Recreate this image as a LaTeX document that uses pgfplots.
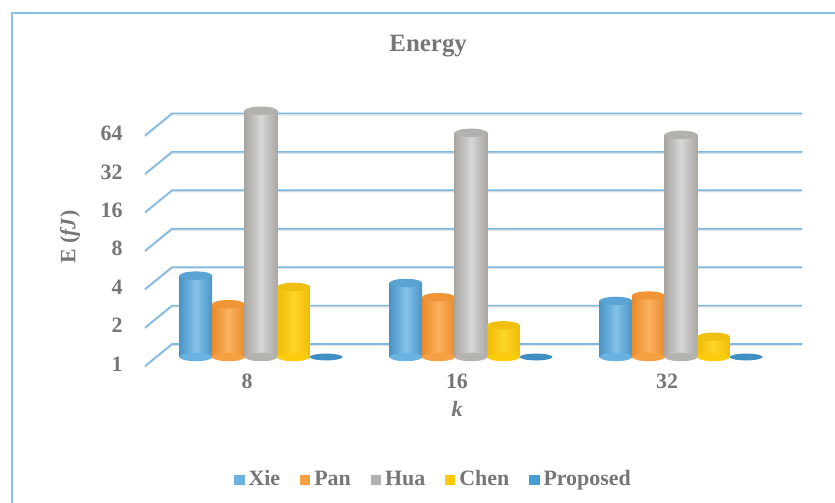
\documentclass[border=0pt]{standalone}
\usepackage{pgfplots}
\pgfplotsset{compat=1.18}
\usepackage{fontspec}
\setmainfont{Liberation Serif}
\definecolor{txt}{HTML}{767676}
\definecolor{gridc}{HTML}{7DB9E2}
\definecolor{framec}{HTML}{86C2E6}
\definecolor{xie}{HTML}{6AB2E0}\definecolor{xieD}{HTML}{4A94C6}\definecolor{xieL}{HTML}{84C2EA}\definecolor{xieT}{HTML}{5AA4D4}
\definecolor{pan}{HTML}{F7A043}\definecolor{panD}{HTML}{E98A2C}\definecolor{panL}{HTML}{FBB25E}\definecolor{panT}{HTML}{EF9536}
\definecolor{hua}{HTML}{B5B3B0}\definecolor{huaD}{HTML}{A9A7A4}\definecolor{huaL}{HTML}{D8D7D5}\definecolor{huaT}{HTML}{B3B1AE}
\definecolor{chen}{HTML}{FBCB0E}\definecolor{chenD}{HTML}{F0BB05}\definecolor{chenL}{HTML}{FDD62A}\definecolor{chenT}{HTML}{EFC010}
\definecolor{prop}{HTML}{4A9FD2}\definecolor{propT}{HTML}{3F8FC2}
\pgfdeclareplotmark{cap}{\pgfpathellipse{\pgfpointorigin}{\pgfqpoint{8.2bp}{0bp}}{\pgfqpoint{0bp}{2.1bp}}\pgfusepathqfill}
\pgfdeclareplotmark{flat}{\pgfpathellipse{\pgfpointorigin}{\pgfqpoint{8.2bp}{0bp}}{\pgfqpoint{0bp}{1.7bp}}\pgfusepathqfill}
% one cylinder: x position (group + shift), value, colour prefix
\newcommand\cyl[3]{%
  \addplot[only marks, mark=cap, mark options={fill=#3, draw=none}, forget plot] coordinates {(#1,1)};
  \addplot[ybar, bar width=0.155, bar shift=0, draw=none, left color=#3D, right color=#3D, middle color=#3L, forget plot] coordinates {(#1,#2)};
  \addplot[only marks, mark=cap, mark options={fill=#3T, draw=none}, forget plot] coordinates {(#1,#2)};}
\begin{document}
\begin{tikzpicture}
\begin{axis}[
  scale only axis, width=315bp, height=134.5bp,
  clip=false,
  xmin=-0.5, xmax=2.5,
  ymode=log, log basis y=2, ymin=1, ymax=128,
  axis line style={draw=none}, tick style={draw=none}, major tick length=0pt,
  xtick={0,1,2}, xticklabels={8,16,32},
  ytick={1,2,4,8,16,32,64}, yticklabels={1,2,4,8,16,32,64},
  xticklabel style={anchor=center, xshift=-7bp, yshift=-12bp, font=\bfseries\fontsize{11}{13}\selectfont, text=txt},
  yticklabel style={anchor=east, inner sep=0pt, xshift=-16.5bp, yshift=-3.5bp, font=\bfseries\fontsize{11}{13}\selectfont, text=txt},
  xlabel={\textbf{\textit{k}}},
  xlabel style={at={(axis description cs:0.5,0)}, anchor=center, xshift=-7bp, yshift=-26bp, font=\fontsize{11}{13}\selectfont, text=txt},
  ylabel={\textbf{E (\textit{fJ})}},
  ylabel style={at={(axis description cs:-0.1365,0.446)}, anchor=center, font=\fontsize{11}{13}\selectfont, text=txt},
  title={Energy},
  every axis title shift=0pt,
  title style={at={(axis description cs:0.432,1.134)}, anchor=base, font=\bfseries\fontsize{12.5}{14}\selectfont, text=txt},
  legend columns=5,
  legend image code/.code={\fill[#1] (0bp,-2.6bp) rectangle (5.2bp,2.6bp);},
  legend style={at={(axis description cs:0.442,-0.457)}, anchor=center, draw=none, fill=none,
    font=\bfseries\fontsize{11}{13}\selectfont, text=txt,
    nodes={text height=7.6bp, text depth=2.2bp},
    /tikz/every even column/.append style={column sep=7.9bp}},
]
% back wall grid
\pgfplotsinvokeforeach{1,2,4,8,16,32,64}{
  \draw[gray!22, line width=0.9bp] ([shift={(-5.5bp,-5.1bp)}]axis cs:-0.5,#1) -- ([shift={(8bp,5.9bp)}]axis cs:-0.5,#1) -- ([shift={(8bp,5.9bp)}]axis cs:2.5,#1);
  \draw[gridc, line width=0.8bp] ([shift={(-5.5bp,-4.5bp)}]axis cs:-0.5,#1) -- ([shift={(8bp,6.5bp)}]axis cs:-0.5,#1) -- ([shift={(8bp,6.5bp)}]axis cs:2.5,#1);
}
% k = 8
\cyl{-0.31}{4.34}{xie}
\cyl{-0.155}{2.59}{pan}
\cyl{0}{85}{hua}
\cyl{0.155}{3.54}{chen}
% k = 16
\cyl{0.69}{3.80}{xie}
\cyl{0.845}{2.94}{pan}
\cyl{1}{57}{hua}
\cyl{1.155}{1.77}{chen}
% k = 32
\cyl{1.69}{2.75}{xie}
\cyl{1.845}{3.03}{pan}
\cyl{2}{55}{hua}
\cyl{2.155}{1.44}{chen}
% Proposed (near zero)
\addplot[only marks, mark=flat, mark options={fill=propT, draw=none}, forget plot] coordinates {(0.31,1) (1.31,1) (2.31,1)};
% legend
\addlegendimage{fill=xie, draw=none}\addlegendentry{Xie}
\addlegendimage{fill=pan, draw=none}\addlegendentry{Pan}
\addlegendimage{fill=hua, draw=none}\addlegendentry{Hua}
\addlegendimage{fill=chen, draw=none}\addlegendentry{Chen}
\addlegendimage{fill=prop, draw=none}\addlegendentry{Proposed}
\end{axis}
\draw[framec, line width=0.8bp] (-72bp,-73bp) -- (-72bp,172bp) -- (339.5bp,172bp);
\pgfresetboundingbox
\path[use as bounding box] (-78bp,-73bp) rectangle (339.5bp,178.5bp);
\end{tikzpicture}
\end{document}
